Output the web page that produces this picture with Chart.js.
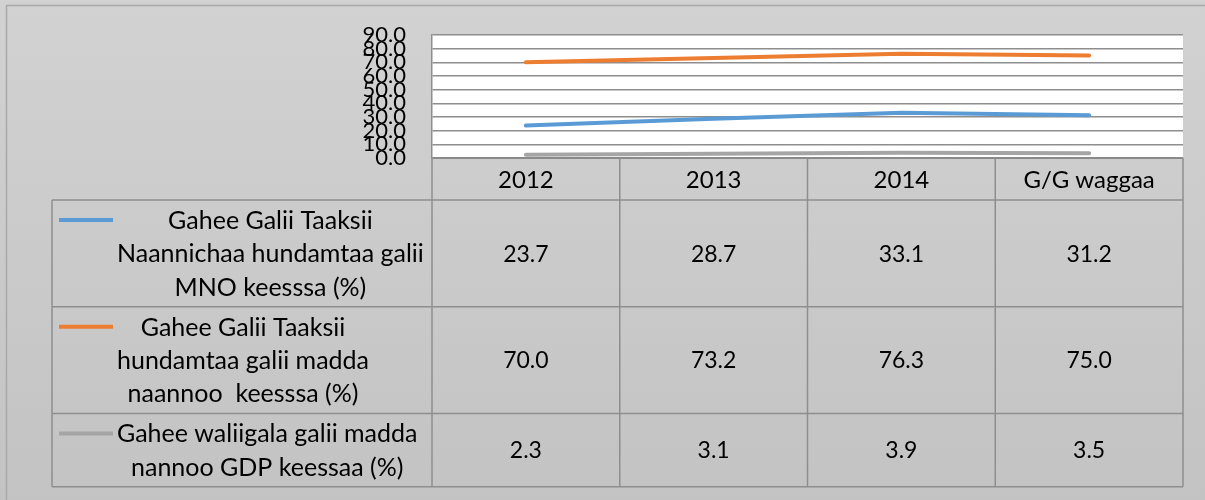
<!DOCTYPE html>
<html>
<head>
<meta charset="utf-8">
<script src="https://cdn.jsdelivr.net/npm/chart.js@4/dist/chart.umd.min.js"></script>
<style>
  html, body { margin: 0; padding: 0; background: #cbcbcb; }
  canvas { display: block; }
</style>
</head>
<body>
<canvas id="chart" width="1205" height="500"></canvas>
<script>
// chart data
const categories = ['2012', '2013', '2014', 'G/G waggaa'];
const mnoShare = [23.7, 28.7, 33.1, 31.2];
const regionShare = [70.0, 73.2, 76.3, 75.0];
const gdpShare = [2.3, 3.1, 3.9, 3.5];
const seriesLabels = [
    ['Gahee Galii Taaksii', 'Naannichaa hundamtaa galii', 'MNO keesssa (%)'],
    ['Gahee Galii Taaksii', 'hundamtaa galii madda', 'naannoo  keesssa (%)'],
    ['Gahee waliigala galii madda', 'nannoo GDP keessaa (%)']
];
const seriesColors = ['#5b9bd5', '#ed7d31', '#a5a5a5'];

const FONT = 'Lato, "Open Sans", sans-serif';
const LINE_COLOR = '#8e8e8e';

/**
 * Background, frame and white plot area
 */
const backdrop = {
    id: 'backdrop',
    beforeDraw(chart) {
        const ctx = chart.ctx;
        const a = chart.chartArea;
        const g = ctx.createLinearGradient(0, 0, 0, chart.height);
        g.addColorStop(0, '#d2d2d2');
        g.addColorStop(1, '#c3c3c3');
        ctx.save();
        ctx.fillStyle = g;
        ctx.fillRect(0, 0, chart.width, chart.height);
        // frame (only top and left edges are inside the picture)
        ctx.strokeStyle = '#a9a9a9';
        ctx.lineWidth = 1.5;
        ctx.beginPath();
        ctx.moveTo(6.5, chart.height);
        ctx.lineTo(6.5, 5.5);
        ctx.lineTo(chart.width, 5.5);
        ctx.stroke();
        ctx.fillStyle = '#ffffff';
        ctx.fillRect(a.left, a.top, a.right - a.left, a.bottom - a.top);
        ctx.restore();
    }
};

/**
 * Data table drawn below the plot area
 */
const dataTable = {
    id: 'dataTable',
    afterDraw(chart) {
        const ctx = chart.ctx;
        const a = chart.chartArea;
        const x = chart.scales.x;
        const series = [mnoShare, regionShare, gdpShare];
        const colW = (a.right - a.left) / categories.length;
        const tableLeft = 52;
        const headerBottom = 200;
        const rowHeights = [106.7, 106.7, 73.3];
        const tableBottom = headerBottom + rowHeights.reduce((s, h) => s + h, 0);

        ctx.save();
        ctx.strokeStyle = LINE_COLOR;
        ctx.lineWidth = 1.5;
        ctx.beginPath();
        // vertical lines
        for (let i = 0; i <= categories.length; i++) {
            const cx = a.left + i * colW;
            ctx.moveTo(cx, a.bottom);
            ctx.lineTo(cx, tableBottom);
        }
        ctx.moveTo(tableLeft, headerBottom);
        ctx.lineTo(tableLeft, tableBottom);
        // horizontal lines
        ctx.moveTo(a.left, a.bottom);
        ctx.lineTo(a.right, a.bottom);
        let y = headerBottom;
        ctx.moveTo(tableLeft, y);
        ctx.lineTo(a.right, y);
        rowHeights.forEach(h => {
            y += h;
            ctx.moveTo(tableLeft, y);
            ctx.lineTo(a.right, y);
        });
        ctx.stroke();

        ctx.fillStyle = '#000000';
        ctx.textAlign = 'center';
        ctx.textBaseline = 'middle';

        // header row
        ctx.font = '24px ' + FONT;
        categories.forEach((c, i) => {
            ctx.fillText(c, x.getPixelForValue(i), (a.bottom + headerBottom) / 2 + 1);
        });

        // series rows
        let top = headerBottom;
        series.forEach((vals, r) => {
            const h = rowHeights[r];
            // legend swatch
            ctx.strokeStyle = seriesColors[r];
            ctx.lineWidth = 4;
            ctx.beginPath();
            ctx.moveTo(59, top + 20);
            ctx.lineTo(113, top + 20);
            ctx.stroke();
            // label lines, centred inside their own block
            ctx.font = '25px ' + FONT;
            const lines = seriesLabels[r];
            const blockW = Math.max(...lines.map(l => ctx.measureText(l).width));
            const cx = 117 + blockW / 2;
            lines.forEach((l, k) => ctx.fillText(l, cx, top + 21 + k * 33.3));
            // values
            ctx.font = '23px ' + FONT;
            vals.forEach((v, i) => {
                ctx.fillText(v.toFixed(1), x.getPixelForValue(i), top + h / 2 + 1);
            });
            top += h;
        });
        ctx.restore();
    }
};

new Chart(document.getElementById('chart'), {
    type: 'line',
    data: {
        labels: categories,
        datasets: [
            { data: mnoShare, borderColor: seriesColors[0] },
            { data: regionShare, borderColor: seriesColors[1] },
            { data: gdpShare, borderColor: seriesColors[2] }
        ].map(d => Object.assign(d, {
            borderWidth: 4,
            pointRadius: 0,
            tension: 0,
            borderCapStyle: 'round',
            fill: false
        }))
    },
    options: {
        responsive: false,
        animation: false,
        devicePixelRatio: 1,
        layout: { padding: { top: 35, right: 22, bottom: 342, left: 0 } },
        plugins: {
            legend: { display: false },
            tooltip: { enabled: false }
        },
        scales: {
            x: {
                type: 'category',
                offset: true,
                display: false
            },
            y: {
                min: 0,
                max: 90,
                afterFit(scale) {
                    scale.width = 432;
                    scale.paddingTop = 0;
                    scale.paddingBottom = 0;
                },
                ticks: {
                    stepSize: 10,
                    autoSkip: false,
                    padding: 26,
                    color: '#000000',
                    font: { family: FONT, size: 22 },
                    callback: v => v.toFixed(1)
                },
                grid: {
                    drawTicks: false,
                    color: ctx => ctx.tick && ctx.tick.value === 0 ? '#7f7f7f' : '#8e8e8e',
                    lineWidth: ctx => ctx.tick && ctx.tick.value === 0 ? 2 : 1.5
                },
                border: { display: true, color: '#8e8e8e', width: 1.5 }
            }
        }
    },
    plugins: [backdrop, dataTable]
});
</script>
</body>
</html>
